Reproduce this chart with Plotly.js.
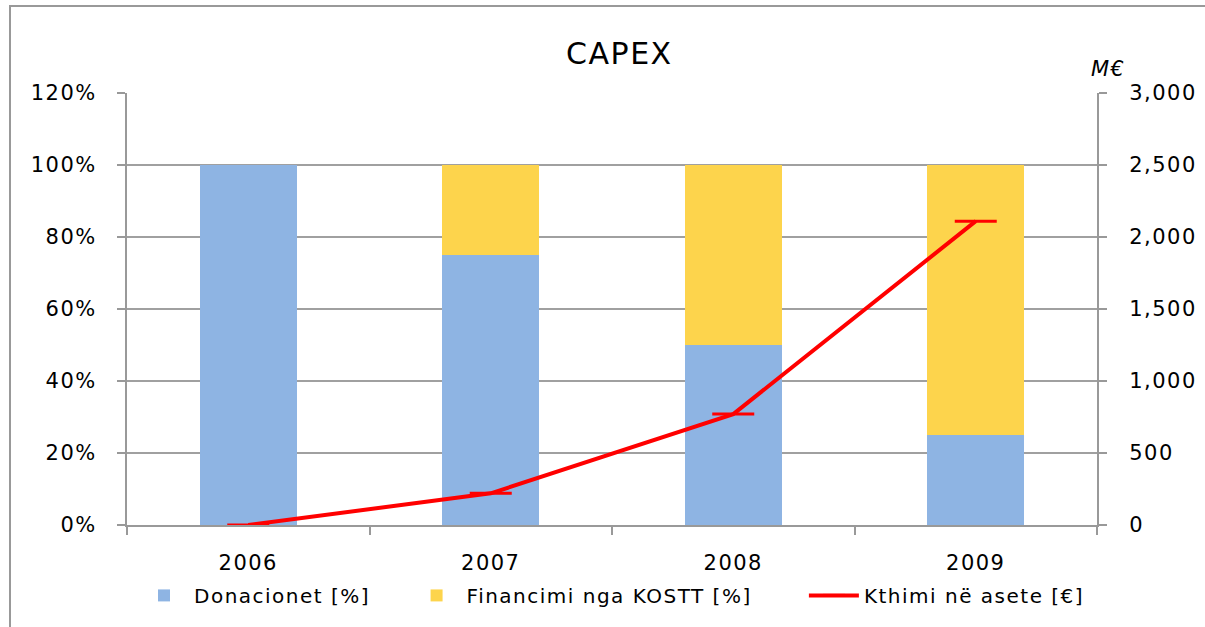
<!DOCTYPE html>
<html><head><meta charset="utf-8">
<script src="https://cdn.plot.ly/plotly-3.0.1.min.js"></script>
<style>html,body{margin:0;padding:0;background:#fff;overflow:hidden}
#frame{position:absolute;left:9px;top:5px;width:1400px;height:900px;border-left:2px solid #999;border-top:2px solid #999;pointer-events:none;z-index:10}
text{letter-spacing:1.5px}
</style></head>
<body><div id="chart" style="width:1205px;height:627px"></div><div id="frame"></div>
<script>
const years = ['2006','2007','2008','2009'];
const donacionet = [100, 75, 50, 25];
const financimi = [0, 25, 50, 75];
const kthimi = [0, 220, 770, 2110];
const seriesNames = ['Donacionet [%]\u00A0\u00A0\u00A0\u00A0', 'Financimi nga KOSTT [%]\u00A0\u00A0\u00A0\u00A0\u00A0\u00A0', 'Kthimi në asete [€]'];

const data = [
  {type:'bar', x:years, y:donacionet, name:seriesNames[0], marker:{color:'#8EB4E3'}, width:0.4},
  {type:'bar', x:years, y:financimi, name:seriesNames[1], marker:{color:'#FDD44C'}, width:0.4},
  {type:'scatter', mode:'lines+markers', x:years, y:kthimi, yaxis:'y2', name:seriesNames[2],
   line:{color:'#FF0000', width:4}, marker:{symbol:'line-ew', size:30, color:'#FF0000', line:{color:'#FF0000', width:3}}}
];

const axisStyle = {showline:true, linecolor:'#999', linewidth:2, ticks:'outside', ticklen:8, tickcolor:'#999', tickwidth:2, automargin:false};
const layout = {
  width:1205, height:627,
  margin:{l:127, r:108, t:93, b:102},
  paper_bgcolor:'#fff', plot_bgcolor:'#fff',
  barmode:'stack',
  font:{family:'DejaVu Sans', size:21, color:'#000'},
  title:{text:'CAPEX', font:{size:30, family:'DejaVu Sans'}, x:0.514, xanchor:'center', y:0.915, yanchor:'middle'},
  showlegend:true,
  legend:{orientation:'h', x:0.5, xanchor:'center', y:-0.163, yanchor:'middle', bgcolor:'rgba(0,0,0,0)', font:{family:'DejaVu Sans', size:20}, traceorder:'normal', itemwidth:50},
  xaxis:Object.assign({type:'category', tickson:'boundaries', showgrid:false, ticklabelstandoff:18}, axisStyle),
  yaxis:Object.assign({range:[0,120], dtick:20, ticksuffix:'%', gridcolor:'#A0A0A0', gridwidth:2, zeroline:false, ticklabelstandoff:16}, axisStyle),
  yaxis2:Object.assign({overlaying:'y', side:'right', range:[0,3000], dtick:500, tickformat:',d', showgrid:false, zeroline:false, ticklabelstandoff:18}, axisStyle),
  annotations:[{text:'<i>M€</i>', xref:'paper', yref:'paper', x:1.011, y:1.055, xanchor:'center', yanchor:'middle', showarrow:false, font:{size:21}}]
};
Plotly.newPlot('chart', data, layout, {displayModeBar:false, staticPlot:true});
</script></body></html>
